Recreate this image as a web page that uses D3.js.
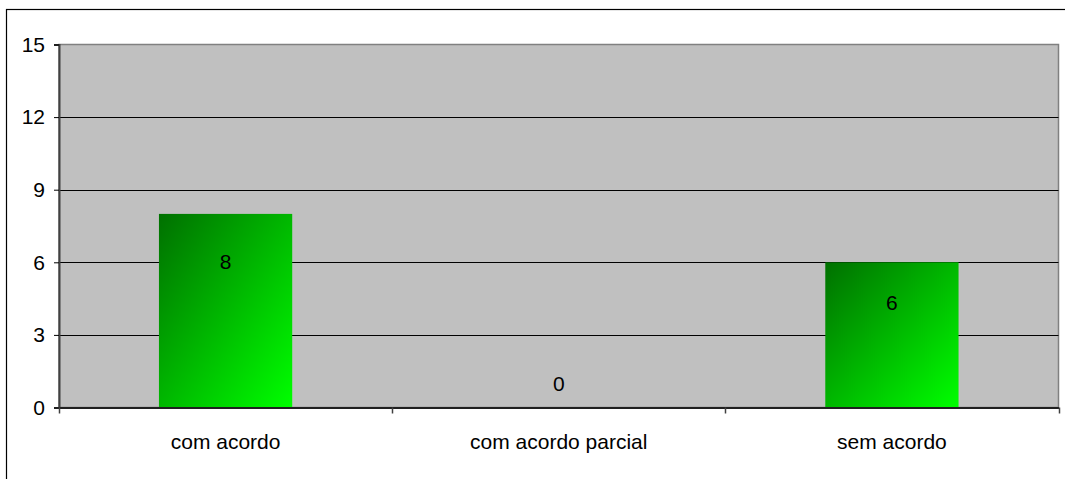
<!DOCTYPE html>
<html>
<head>
<meta charset="utf-8">
<script src="https://cdn.jsdelivr.net/npm/d3@7"></script>
<style>
body { margin: 0; background: #fff; }
text { font-family: "Liberation Sans", Arial, sans-serif; }
</style>
</head>
<body>
<div id="chart"></div>
<script>
// chart data
var categories = ["com acordo", "com acordo parcial", "sem acordo"];
var values = [8, 0, 6];
var yTicks = [0, 3, 6, 9, 12, 15];

var width = 1065, height = 479;
var plot = {left: 59, top: 44.5, right: 1058.5, bottom: 407.5};
var fontSize = "21px";

var svg = d3.select("#chart").append("svg")
    .attr("width", width)
    .attr("height", height);

// gradient for bars
var defs = svg.append("defs");
var grad = defs.append("linearGradient")
    .attr("id", "barGrad")
    .attr("x1", "0").attr("y1", "0")
    .attr("x2", "1").attr("y2", "1");
grad.append("stop").attr("offset", "0%").attr("stop-color", "#007000");
grad.append("stop").attr("offset", "100%").attr("stop-color", "#00ff00");

// outer border
svg.append("rect")
    .attr("x", 6.5).attr("y", 9.5)
    .attr("width", width).attr("height", height)
    .attr("fill", "none")
    .attr("stroke", "#000")
    .attr("stroke-width", 1.2);

var x = d3.scaleBand()
    .domain(categories)
    .range([plot.left, plot.right])
    .paddingInner(0.6)
    .paddingOuter(0.3);

var xOuter = d3.scaleBand()
    .domain(categories)
    .range([plot.left, plot.right]);

var y = d3.scaleLinear()
    .domain([0, 15])
    .range([plot.bottom, plot.top]);

// plot background
svg.append("rect")
    .attr("x", plot.left).attr("y", plot.top)
    .attr("width", plot.right - plot.left)
    .attr("height", plot.bottom - plot.top)
    .attr("fill", "#c0c0c0")
    .attr("stroke", "#808080")
    .attr("stroke-width", 1.5);

// gridlines
svg.append("g").selectAll("line")
    .data(yTicks.filter(function(d) { return d > 0 && d < 15; }))
    .enter().append("line")
    .attr("x1", plot.left).attr("x2", plot.right)
    .attr("y1", function(d) { return Math.round(y(d)) + 0.5; })
    .attr("y2", function(d) { return Math.round(y(d)) + 0.5; })
    .attr("stroke", "#000")
    .attr("stroke-width", 1);

// bars
svg.append("g").selectAll("rect")
    .data(values)
    .enter().append("rect")
    .attr("x", function(d, i) { return x(categories[i]); })
    .attr("y", function(d) { return y(d); })
    .attr("width", x.bandwidth())
    .attr("height", function(d) { return y(0) - y(d); })
    .attr("fill", "url(#barGrad)");

// value labels
svg.append("g").selectAll("text")
    .data(values)
    .enter().append("text")
    .attr("x", function(d, i) { return x(categories[i]) + x.bandwidth() / 2; })
    .attr("y", function(d) {
      return d > 0 ? y(d) + 26 + 0.15 * (y(0) - y(d)) : y(0) - 17;
    })
    .attr("text-anchor", "middle")
    .style("font-size", fontSize)
    .style("fill", "#000")
    .text(function(d) { return d; });

// y axis
var yAxis = d3.axisLeft(y)
    .tickValues(yTicks)
    .tickSize(5)
    .tickPadding(9);
var gy = svg.append("g")
    .attr("transform", "translate(" + plot.left + ",0)")
    .call(yAxis);
gy.select(".domain").attr("stroke", "#404040").attr("stroke-width", 2);
gy.selectAll(".tick line").attr("stroke", "#000");
gy.selectAll(".tick text")
    .style("font-size", fontSize)
    .style("font-family", "Liberation Sans, Arial, sans-serif")
    .attr("fill", "#000");

// x axis
var xAxis = d3.axisBottom(xOuter)
    .tickSize(0)
    .tickPadding(27);
var gx = svg.append("g")
    .attr("transform", "translate(0," + plot.bottom + ")")
    .call(xAxis);
gx.select(".domain").attr("stroke", "#202020").attr("stroke-width", 2);
gx.selectAll(".tick text")
    .style("font-size", fontSize)
    .style("font-family", "Liberation Sans, Arial, sans-serif")
    .attr("fill", "#000");

// category separator ticks
var bounds = categories.map(function(c) { return xOuter(c); }).concat([plot.right]);
gx.selectAll(".sep")
    .data(bounds)
    .enter().append("line")
    .attr("class", "sep")
    .attr("x1", function(d) { return Math.round(d) + 0.5; })
    .attr("x2", function(d) { return Math.round(d) + 0.5; })
    .attr("y1", 0).attr("y2", 6)
    .attr("stroke", "#404040")
    .attr("stroke-width", 1.5);
</script>
</body>
</html>
